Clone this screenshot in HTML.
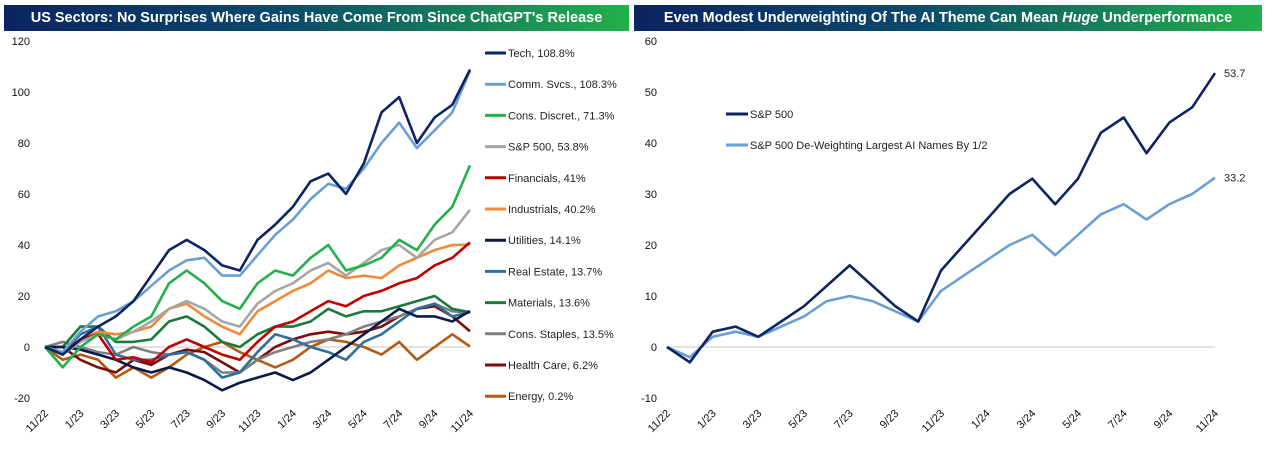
<!DOCTYPE html>
<html><head><meta charset="utf-8"><style>
body{margin:0;background:#fff;font-family:"Liberation Sans",sans-serif}
.hdr{position:absolute;top:5px;height:26px;color:#fff;font-weight:bold;font-size:14.5px;line-height:26px;text-align:center;background:linear-gradient(90deg,#0c2461,#0c4a6a 45%,#22b04b)}
</style></head><body>
<div class="hdr" style="left:4px;width:625px">US Sectors: No Surprises Where Gains Have Come From Since ChatGPT's Release</div>
<div class="hdr" style="left:634px;width:628px">Even Modest Underweighting Of The AI Theme Can Mean <i>Huge</i> Underperformance</div>
<svg id="s" width="1266" height="463" style="position:absolute;left:0;top:0"></svg>
<script>
const months=["11/22","1/23","3/23","5/23","7/23","9/23","11/23","1/24","3/24","5/24","7/24","9/24","11/24"];
const leftNames=["Tech, 108.8%","Comm. Svcs., 108.3%","Cons. Discret., 71.3%","S&P 500, 53.8%","Financials, 41%","Industrials, 40.2%","Utilities, 14.1%","Real Estate, 13.7%","Materials, 13.6%","Cons. Staples, 13.5%","Health Care, 6.2%","Energy, 0.2%"];
const leftColors=["#0c2461","#6a9fd4","#22b04b","#a6a6a6","#c00000","#f08a3a","#0a1a4a","#2e6fa0","#1a7a3a","#7f7f7f","#7a0c0c","#b35a14"];
const tech=[0,-3,3,8,12,18,28,38,42,38,32,30,42,48,55,65,68,60,72,92,98,80,90,95,108.8];
const comm=[0,-2,6,12,14,18,24,30,34,35,28,28,36,44,50,58,64,62,70,80,88,78,85,92,108.3];
const consd=[0,-8,0,5,3,8,12,25,30,25,18,15,25,30,28,35,40,30,32,35,42,38,48,55,71.3];
const spx=[0,-3,2,5,3,6,10,15,18,15,10,8,17,22,25,30,33,28,33,38,40,35,42,45,53.8];
const fin=[0,-2,3,5,-5,-4,-6,0,3,0,-3,-5,2,8,10,14,18,16,20,22,25,27,32,35,41];
const ind=[0,-2,3,6,5,6,8,15,17,12,8,5,14,18,22,25,30,27,28,27,32,35,38,40,40.2];
const util=[0,0,-1,-3,-5,-8,-10,-8,-10,-13,-17,-14,-12,-10,-13,-10,-5,0,5,10,15,12,12,10,14.1];
const reit=[0,-2,5,8,-3,-5,-5,-3,-2,-5,-12,-10,-2,5,3,0,-2,-5,2,5,10,15,17,12,13.7];
const mat=[0,0,8,8,2,2,3,10,12,8,2,0,5,8,8,10,15,12,14,14,16,18,20,15,13.6];
const stap=[0,2,0,-2,-3,0,-2,-3,-2,-5,-10,-10,-5,-2,0,2,3,5,8,10,12,15,17,14,13.5];
const hc=[0,0,-5,-8,-10,-5,-7,-3,-1,-2,-6,-10,-5,0,3,5,6,5,6,8,12,15,16,12,6.2];
const energy=[0,-5,-3,-5,-12,-8,-12,-8,-3,0,2,-2,-5,-8,-5,0,3,2,0,-3,2,-5,0,5,0.2];
const leftSeries=[tech,comm,consd,spx,fin,ind,util,reit,mat,stap,hc,energy];
const leftTicks=[120,100,80,60,40,20,0,-20];
const rightTicks=[60,50,40,30,20,10,0,-10];
const rSpx=[0,-3,3,4,2,5,8,12,16,12,8,5,15,20,25,30,33,28,33,42,45,38,44,47,53.7];
const rDew=[0,-2,2,3,2,4,6,9,10,9,7,5,11,14,17,20,22,18,22,26,28,25,28,30,33.2];
const rightNames=["S&P 500","S&P 500 De-Weighting Largest AI Names By 1/2"];
const rightColors=["#0c2461","#6a9fd4"];
const rightEnd=["53.7","33.2"];
const svg=document.getElementById('s');
function el(t,a,txt){const e=document.createElementNS("http://www.w3.org/2000/svg",t);for(const k in a)e.setAttribute(k,a[k]);if(txt!==undefined)e.textContent=txt;svg.appendChild(e);return e;}
function chart(x0,x1,ymax,ymin,ticks,series,colors,lblX){
  const Y=v=>41+(ymax-v)/(ymax-ymin)*357;
  const X=i=>x0+i/24*(x1-x0);
  ticks.forEach(t=>{const e=el('text',{x:lblX,y:Y(t)+4,'text-anchor':'end','font-size':11,fill:'#111'},t);
    
    });
  const z=el('line',{x1:x0,x2:x1,y1:Y(0),y2:Y(0),stroke:'#d9d9d9','stroke-width':1.5});
  
  
  months.forEach((m,i)=>{const x=x0+i*2/24*(x1-x0);
    const e=el('text',{x:x+4,y:414,'text-anchor':'end','font-size':11,fill:'#111',transform:`rotate(-45 ${x+4} 414)`},m);
    
    });
  for(let s=series.length-1;s>=0;s--){const d=series[s].map((v,i)=>(i?'L':'M')+X(i).toFixed(1)+','+Y(v).toFixed(1)).join('');
    const p=el('path',{d,fill:'none',stroke:colors[s],'stroke-width':2.6,'stroke-linejoin':'round'});
    
    }
  return Y;
}
chart(45,470,120,-20,leftTicks,leftSeries,leftColors,30);
leftNames.forEach((n,i)=>{const y=53+i*31.2;
  const l=el('line',{x1:485,x2:506,y1:y,y2:y,stroke:leftColors[i],'stroke-width':3});
  
  
  const t=el('text',{x:508,y:y+4,'font-size':11,fill:'#222'},n);
  
  });
const YR=chart(667,1215,60,-10,rightTicks,[rSpx,rDew],rightColors,657);
rightNames.forEach((n,i)=>{const y=114+i*31;
  const l=el('line',{x1:726,x2:748,y1:y,y2:y,stroke:rightColors[i],'stroke-width':3});
  
  
  const t=el('text',{x:750,y:y+4,'font-size':11,fill:'#222'},n);
  
  });
[rSpx,rDew].forEach((s,i)=>{const t=el('text',{x:1224,y:YR(s[24])+4,'font-size':11,fill:'#222'},rightEnd[i]);
  
  });
</script>
</body></html>
